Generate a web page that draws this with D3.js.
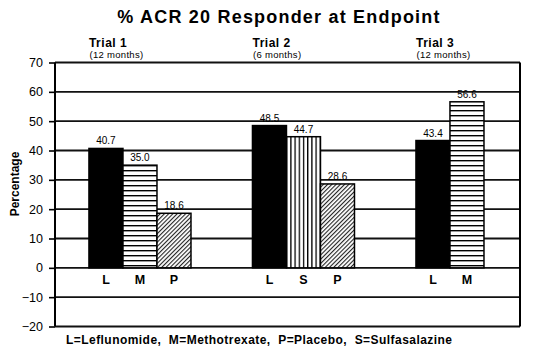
<!DOCTYPE html>
<html><head><meta charset="utf-8">
<script src="https://cdn.jsdelivr.net/npm/d3@7"></script>
<style>body{margin:0;background:#fff}svg{display:block}text{font-family:"Liberation Sans",Arial,Helvetica,sans-serif;fill:#000}</style>
</head><body>
<script>
const title = "% ACR 20 Responder at Endpoint";
const trials = ["Trial 1", "Trial 2", "Trial 3"];
const durations = ["(12 months)", "(6 months)", "(12 months)"];
const trialDrugs = [["L", "M", "P"], ["L", "S", "P"], ["L", "M"]];
const trialValues = [[40.7, 35.0, 18.6], [48.5, 44.7, 28.6], [43.4, 56.6]];
const yTicks = [70, 60, 50, 40, 30, 20, 10, 0, -10, -20];
const yLabel = "Percentage";
const footnote = "L=Leflunomide,  M=Methotrexate,  P=Placebo,  S=Sulfasalazine";

const W = 539, H = 355;
const m = {l: 55, r: 19, t: 62.5, b: 28.5};
const svg = d3.select("body").append("svg").attr("width", W).attr("height", H);
const defs = svg.append("defs");

// patterns
const pM = defs.append("pattern").attr("id", "pat-M").attr("patternUnits", "userSpaceOnUse").attr("width", 8).attr("height", 5);
pM.append("rect").attr("width", 8).attr("height", 5).attr("fill", "#fff");
pM.append("rect").attr("y", 0).attr("width", 8).attr("height", 1.4).attr("fill", "#000");
const pS = defs.append("pattern").attr("id", "pat-S").attr("patternUnits", "userSpaceOnUse").attr("width", 4.2).attr("height", 8);
pS.append("rect").attr("width", 4.2).attr("height", 8).attr("fill", "#fff");
pS.append("rect").attr("x", 0).attr("width", 1.3).attr("height", 8).attr("fill", "#000");
const pP = defs.append("pattern").attr("id", "pat-P").attr("patternUnits", "userSpaceOnUse").attr("width", 3).attr("height", 3).attr("patternTransform", "rotate(45)");
pP.append("rect").attr("width", 3).attr("height", 3).attr("fill", "#fff");
pP.append("rect").attr("x", 0).attr("width", 1.1).attr("height", 3).attr("fill", "#222");

const fills = {L: "#000", M: "url(#pat-M)", S: "url(#pat-S)", P: "url(#pat-P)"};

const y = d3.scaleLinear().domain([-20, 70]).range([H - m.b, m.t]);
const x0 = d3.scaleBand().domain(trials).range([m.l, W - m.r]).paddingInner(0.376).paddingOuter(0.11).align(0.944);
const x1 = d3.scaleBand().domain([0, 1, 2]).range([0, x0.bandwidth()]).padding(0);

// title
svg.append("text").attr("x", 279).attr("y", 23).attr("text-anchor", "middle")
  .style("font-size", "18px").style("font-weight", "bold").style("letter-spacing", "1.2px").text(title);

// gridlines
svg.append("g").selectAll("line").data(yTicks).join("line")
  .attr("x1", m.l).attr("x2", W - m.r).attr("y1", d => y(d)).attr("y2", d => y(d))
  .attr("stroke", "#111").attr("stroke-width", 1.8);

// axis
const yAxis = d3.axisLeft(y).tickValues(yTicks).tickSize(6).tickPadding(6);
const ga = svg.append("g").attr("transform", `translate(${m.l},0)`).call(yAxis);
ga.select(".domain").remove();
ga.selectAll(".tick line").attr("stroke", "#000").attr("stroke-width", 1.6);
ga.selectAll(".tick text").style("font-size", "12.5px").attr("fill", "#000");
svg.append("line").attr("x1", m.l).attr("x2", m.l).attr("y1", y(70)).attr("y2", y(-20)).attr("stroke", "#000").attr("stroke-width", 2);
svg.append("line").attr("x1", W - m.r).attr("x2", W - m.r).attr("y1", y(70)).attr("y2", y(-20)).attr("stroke", "#000").attr("stroke-width", 2);

// y label
svg.append("text").attr("transform", `translate(18.5,184) rotate(-90)`).attr("text-anchor", "middle")
  .style("font-size", "12px").style("font-weight", "bold").text(yLabel);

// groups
trials.forEach((t, i) => {
  const g = svg.append("g").attr("transform", `translate(${x0(t)},0)`);
  g.append("text").attr("x", 0).attr("y", 47).style("font-size", "12px").style("font-weight", "bold").style("letter-spacing", "0.5px").text(t);
  g.append("text").attr("x", 0.5).attr("y", 58).style("font-size", "9.5px").style("letter-spacing", "0.3px").text(durations[i]);
  const data = trialDrugs[i].map((d, j) => ({drug: d, value: trialValues[i][j], j}));
  g.selectAll("rect.bar").data(data).join("rect").attr("class", "bar")
    .attr("x", d => x1(d.j)).attr("width", x1.bandwidth())
    .attr("y", d => y(d.value)).attr("height", d => y(0) - y(d.value))
    .attr("fill", d => fills[d.drug]).attr("stroke", "#000").attr("stroke-width", 1.5);
  g.selectAll("text.val").data(data).join("text").attr("class", "val")
    .attr("x", d => x1(d.j) + x1.bandwidth() / 2).attr("y", d => y(d.value) - 4)
    .attr("text-anchor", "middle").style("font-size", "10px").text(d => d.value.toFixed(1));
  g.selectAll("text.cat").data(data).join("text").attr("class", "cat")
    .attr("x", d => x1(d.j) + x1.bandwidth() / 2).attr("y", y(0) + 16)
    .attr("text-anchor", "middle").style("font-size", "12.5px").style("font-weight", "bold").text(d => d.drug);
});

// footnote
svg.append("text").attr("x", 66).attr("y", 344).style("font-size", "12px").style("font-weight", "bold")
  .style("letter-spacing", "0.45px").style("white-space", "pre").text(footnote);
</script>
</body></html>
